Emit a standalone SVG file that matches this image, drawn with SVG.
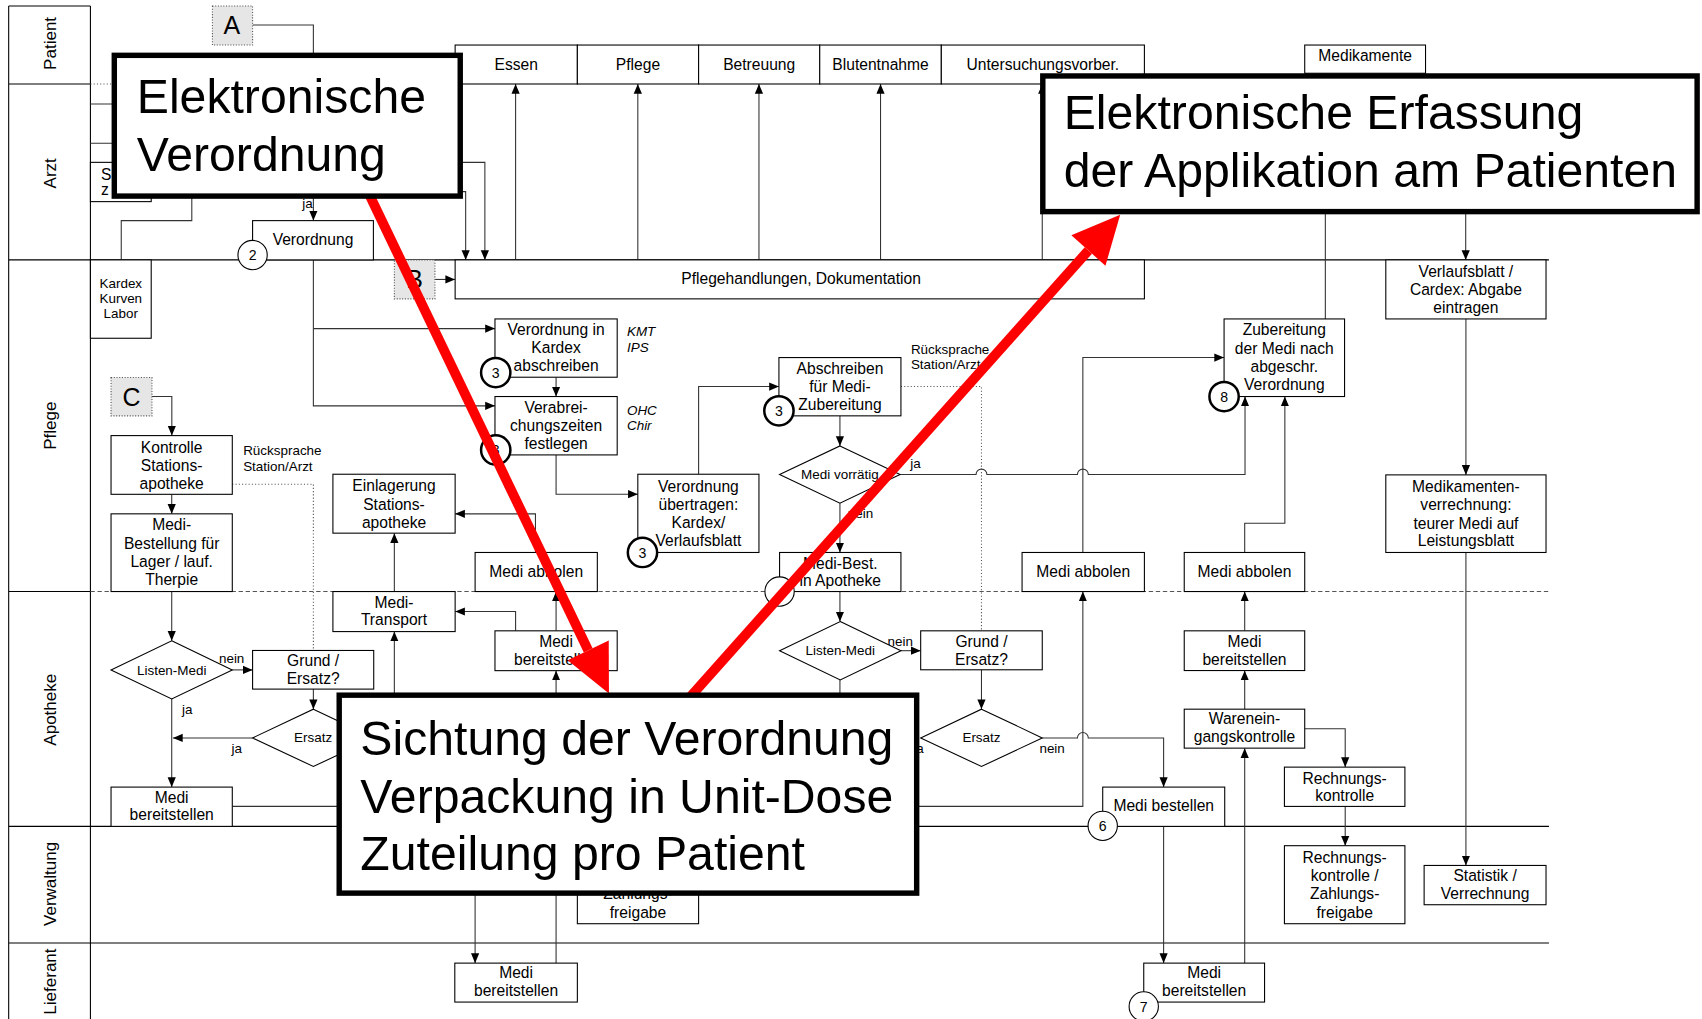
<svg xmlns="http://www.w3.org/2000/svg" width="1702" height="1019" viewBox="0 0 1702 1019">
<defs>
<style>
text{font-family:"Liberation Sans",Arial,sans-serif;fill:#000}
.t{font-size:14.4px;text-anchor:middle}
.s{font-size:12.4px}
.sm{font-size:12.4px;text-anchor:middle}
.i{font-size:12.4px;font-style:italic}
.lane{font-size:15.7px;text-anchor:middle}
.big{font-size:23px;text-anchor:middle}
.ct{font-size:44.4px}
.n{font-size:13px;text-anchor:middle}
.box{fill:#fff;stroke:#000;stroke-width:1}
.tag{fill:#e6e6e6;stroke:#555;stroke-width:1;stroke-dasharray:1 1.5}
.ln{fill:none;stroke:#333;stroke-width:1}
.ar{marker-end:url(#ah)}
.dot{fill:none;stroke:#555;stroke-width:1;stroke-dasharray:1 2}
.ll{stroke:#000;stroke-width:1;fill:none}
.dash{stroke:#555;stroke-width:1;stroke-dasharray:4 2.5;fill:none}
.c{fill:#fff;stroke:#000;stroke-width:1}
.ck{fill:#fff;stroke:#000;stroke-width:2.3}
.callout{fill:#fff;stroke:#000;stroke-width:5}
.red{stroke:#f00;stroke-width:9;fill:none}
</style>
<marker id="ah" viewBox="0 0 10 10" refX="10" refY="5" markerWidth="9" markerHeight="9" markerUnits="userSpaceOnUse" orient="auto"><path d="M0,0.8 L10,5 L0,9.2 z" fill="#000"/></marker>
</defs>
<rect width="1702" height="1019" fill="#fff"/>
<g transform="scale(1.08546,1.0852)">

<!-- swimlanes -->
<g id="lanes">
<path class="ll" d="M8,5.5 H83.3 M8,5.5 V940 M83.3,5.5 V940 M8,77.4 H83.3 M8,239.5 H1427 M8,545.1 H83.3 M8,761.5 H1427 M8,869 H1427"/>
<path class="dot" d="M83.3,77.4 H419"/>
<path class="dash" d="M83.3,545.1 H1427"/>
<text class="lane" transform="translate(51.5,40) rotate(-90)">Patient</text>
<text class="lane" transform="translate(51.5,159.7) rotate(-90)">Arzt</text>
<text class="lane" transform="translate(51.5,392.3) rotate(-90)">Pflege</text>
<text class="lane" transform="translate(51.5,654) rotate(-90)">Apotheke</text>
<text class="lane" transform="translate(51.5,814.5) rotate(-90)">Verwaltung</text>
<text class="lane" transform="translate(51.5,904.5) rotate(-90)">Lieferant</text>
</g>

<!-- connectors -->
<g id="connectors">
<path class="ln ar" d="M232.7,23 H288.7 V203.3"/>
<path class="ln" d="M176.7,170 V203.3 H111.7 V239.5"/>
<path class="ln" d="M83.3,95.8 H110 M83.3,132 H110"/>
<path class="ln ar" d="M410,149.6 H446.7 V239.5"/>
<path class="ln ar" d="M410,176.6 H429 V239.5"/>
<path class="ln ar" d="M475,239.5 V77.4"/>
<path class="ln ar" d="M587.6,239.5 V77.4"/>
<path class="ln ar" d="M699.2,239.5 V77.4"/>
<path class="ln ar" d="M811.2,239.5 V77.4"/>
<path class="ln ar" d="M960.2,239.5 V77.4"/>
<path class="ln ar" d="M400.7,257.5 H419.3"/>
<path class="ln ar" d="M1350.3,100 V239.5"/>
<path class="ln" d="M1221,66 V293.9"/>
<path class="ln ar" d="M288.7,239.5 V374 H456"/>
<path class="ln ar" d="M288.7,302.8 H456"/>
<path class="ln ar" d="M512.3,347.6 V365.4"/>
<path class="ln ar" d="M512.3,419.2 V455.4 H587.6"/>
<path class="ln ar" d="M643.6,437 V356.2 H717.6"/>
<path class="ln ar" d="M773.8,383.2 V410.9"/>
<path class="ln ar" d="M829.2,437.3 H899.2 a5,5 0 0 1 10,0 H992.6 a5,5 0 0 1 10,0 H1147 V365.4"/>
<path class="ln ar" d="M773.8,463.7 V509.1"/>
<path class="ln ar" d="M773.8,545.1 V572.7"/>
<path class="ln ar" d="M830,599.6 H848.2"/>
<path class="ln" d="M773.8,626.5 V660"/>
<path class="ln ar" d="M904.2,617.2 V653.5"/>
<path class="ln ar" d="M960.2,680 H992.6 a5,5 0 0 1 10,0 H1072 V725.3"/>
<path class="ln ar" d="M1072,761.5 V887.5"/>
<path class="ln ar" d="M1146.7,887.5 V689.4"/>
<path class="ln ar" d="M1146.7,653.5 V617.9"/>
<path class="ln ar" d="M1146.7,581.3 V545.1"/>
<path class="ln ar" d="M1146.7,509.1 V482.1 H1183.7 V365.4"/>
<path class="ln ar" d="M997.6,509.1 V329.5 H1127.7"/>
<path class="ln ar" d="M214,743.1 H997.6 V545.1"/>
<path class="ln ar" d="M1202,671.6 H1239.3 V706.9"/>
<path class="ln ar" d="M1239.3,743.1 V779.3"/>
<path class="ln ar" d="M1350.5,293.9 V437.6"/>
<path class="ln ar" d="M1350.5,509.1 V797.5"/>
<path class="ln ar" d="M140,365.4 H158.3 V401.4"/>
<path class="ln ar" d="M158.2,455.5 V473.5"/>
<path class="ln ar" d="M158.2,545.1 V590.5"/>
<path class="ln ar" d="M214,617.3 H232.7"/>
<path class="ln ar" d="M288.7,635 V653.5"/>
<path class="ln ar" d="M232.7,680 H159.3"/>
<path class="ln ar" d="M158.2,644 V725.3"/>
<path class="ln ar" d="M493.3,509.1 V473.5 H419.3"/>
<path class="ln ar" d="M363.3,545.1 V491.3"/>
<path class="ln ar" d="M475,581.3 V563.5 H419.3"/>
<path class="ln ar" d="M512.3,581.3 V545.1"/>
<path class="ln ar" d="M512.3,887.5 V618"/>
<path class="ln ar" d="M437.7,790 V887.5"/>
<path class="ln ar" d="M363.3,700 V582"/>
<path class="dot" d="M214,446.2 H288.7 V599.4"/>
<path class="dot" d="M830,356.2 H904.2 V581.3"/>
<text class="s" x="278.5" y="191.5">ja</text>
<text class="s" x="838.5" y="431">ja</text>
<text class="s" x="781" y="477">nein</text>
<text class="s" x="817.6" y="595.5">nein</text>
<text class="s" x="957.6" y="693.6">nein</text>
<text class="s" x="201.7" y="611">nein</text>
<text class="s" x="167.7" y="657.7">ja</text>
<text class="s" x="213.3" y="693.6">ja</text>
<text class="s" x="851" y="693.6" text-anchor="end">ja</text>
<text class="s" x="224"><tspan x="224" y="419.7">Rücksprache</tspan><tspan x="224" y="434.3">Station/Arzt</tspan></text>
<text class="s" x="839.2"><tspan x="839.2" y="325.8">Rücksprache</tspan><tspan x="839.2" y="340">Station/Arzt</tspan></text>
<text class="i" x="577.6"><tspan x="577.6" y="309.2">KMT</tspan><tspan x="577.6" y="324.6">IPS</tspan></text>
<text class="i" x="577.6"><tspan x="577.6" y="382.6">OHC</tspan><tspan x="577.6" y="396.3">Chir</tspan></text>
</g>

<!-- patient lane -->
<g id="tag-a"><rect class="tag" x="195.7" y="5.5" width="37" height="36"/><text class="big" x="213.5" y="31.3">A</text></g>
<g id="essen"><rect class="box" x="419.3" y="41.5" width="112.6" height="35.9"/><text class="t" x="475.6" y="64.4">Essen</text></g>
<g id="pflege"><rect class="box" x="531.9" y="41.5" width="111.7" height="35.9"/><text class="t" x="587.75" y="64.4">Pflege</text></g>
<g id="betreuung"><rect class="box" x="643.6" y="41.5" width="111.6" height="35.9"/><text class="t" x="699.4" y="64.4">Betreuung</text></g>
<g id="blutentnahme"><rect class="box" x="755.2" y="41.5" width="112" height="35.9"/><text class="t" x="811.2" y="64.4">Blutentnahme</text></g>
<g id="untersuchung"><rect class="box" x="867.2" y="41.5" width="187.1" height="35.9"/><text class="t" x="960.75" y="64.4">Untersuchungsvorber.</text></g>
<g id="medikamente"><rect class="box" x="1202" y="41.5" width="111.3" height="26"/><text class="t" x="1257.65" y="55.8">Medikamente</text></g>

<!-- arzt lane -->
<g id="arzt-box"><rect class="box" x="83.3" y="149.6" width="56" height="36.2"/><text class="t" x="97.8" y="166.3" text-anchor="start">S</text><text class="t" x="96.7" y="179.9" text-anchor="start">z</text></g>
<g id="verordnung"><rect class="box" x="232.7" y="203.3" width="111.3" height="36.2"/><text class="t" x="288.35" y="226">Verordnung</text></g>

<!-- pflege lane -->
<g id="kardex"><rect class="box" x="83.3" y="239.5" width="56" height="72.2"/><text class="sm" x="111.3"><tspan x="111.3" y="265.4">Kardex</tspan><tspan x="111.3" y="279.4">Kurven</tspan><tspan x="111.3" y="293.4">Labor</tspan></text></g>
<g id="pflegehandlungen"><rect class="box" x="419.3" y="239.5" width="635" height="35.9"/><text class="t" x="738" y="262.1">Pflegehandlungen, Dokumentation</text></g>
<g id="tag-b"><rect class="tag" x="363.3" y="239.5" width="37.4" height="35.9"/><text class="big" x="382" y="265.5">B</text></g>
<g id="tag-c"><rect class="tag" x="102.3" y="347.9" width="37.7" height="35.3"/><text class="big" x="121.2" y="373.7">C</text></g>
<g id="kardex-abschreiben"><rect class="box" x="456" y="293.9" width="112.6" height="53.7"/><text class="t" x="512.3"><tspan x="512.3" y="308.5">Verordnung in</tspan><tspan x="512.3" y="325.4">Kardex</tspan><tspan x="512.3" y="342.3">abschreiben</tspan></text></g>
<g id="verabreichungszeiten"><rect class="box" x="456" y="365.4" width="112.6" height="53.8"/><text class="t" x="512.3"><tspan x="512.3" y="380.7">Verabrei-</tspan><tspan x="512.3" y="397.6">chungszeiten</tspan><tspan x="512.3" y="413.5">festlegen</tspan></text></g>
<g id="uebertragen"><rect class="box" x="587.6" y="437" width="111.6" height="72.1"/><text class="t" x="643.4"><tspan x="643.4" y="453">Verordnung</tspan><tspan x="643.4" y="469.7">übertragen:</tspan><tspan x="643.4" y="486.4">Kardex/</tspan><tspan x="643.4" y="503.1">Verlaufsblatt</tspan></text></g>
<g id="abschreiben"><rect class="box" x="717.6" y="329.5" width="112.4" height="53.7"/><text class="t" x="773.8"><tspan x="773.8" y="344.4">Abschreiben</tspan><tspan x="773.8" y="361.3">für Medi-</tspan><tspan x="773.8" y="378.2">Zubereitung</tspan></text></g>
<g id="vorraetig"><polygon class="box" points="773.8,410.9 829.2,437.3 773.8,463.7 718.2,437.3"/><text class="sm" x="773.8" y="441.6">Medi vorrätig</text></g>
<g id="zubereitung"><rect class="box" x="1127.7" y="293.9" width="111" height="71.5"/><text class="t" x="1183.2"><tspan x="1183.2" y="309.1">Zubereitung</tspan><tspan x="1183.2" y="326">der Medi nach</tspan><tspan x="1183.2" y="342.9">abgeschr.</tspan><tspan x="1183.2" y="359.8">Verordnung</tspan></text></g>
<g id="verlaufsblatt"><rect class="box" x="1276.7" y="239.5" width="147.6" height="54.4"/><text class="t" x="1350.5"><tspan x="1350.5" y="255.4">Verlaufsblatt /</tspan><tspan x="1350.5" y="271.6">Cardex: Abgabe</tspan><tspan x="1350.5" y="288.2">eintragen</tspan></text></g>
<g id="verrechnung"><rect class="box" x="1276.7" y="437.6" width="147.6" height="71.5"/><text class="t" x="1350.5"><tspan x="1350.5" y="453.5">Medikamenten-</tspan><tspan x="1350.5" y="470.3">verrechnung:</tspan><tspan x="1350.5" y="487.2">teurer Medi auf</tspan><tspan x="1350.5" y="503.5">Leistungsblatt</tspan></text></g>
<g id="kontrolle"><rect class="box" x="102.3" y="401.4" width="111.7" height="54.1"/><text class="t" x="158.15"><tspan x="158.15" y="417.2">Kontrolle</tspan><tspan x="158.15" y="434.1">Stations-</tspan><tspan x="158.15" y="450.4">apotheke</tspan></text></g>
<g id="bestellung"><rect class="box" x="102.3" y="473.5" width="111.7" height="71.6"/><text class="t" x="158.15"><tspan x="158.15" y="488.7">Medi-</tspan><tspan x="158.15" y="505.6">Bestellung für</tspan><tspan x="158.15" y="522.5">Lager / lauf.</tspan><tspan x="158.15" y="539.4">Therpie</tspan></text></g>
<g id="einlagerung"><rect class="box" x="306.7" y="437" width="112.6" height="54.3"/><text class="t" x="363"><tspan x="363" y="452.8">Einlagerung</tspan><tspan x="363" y="469.7">Stations-</tspan><tspan x="363" y="486.1">apotheke</tspan></text></g>
<g id="abholen-1"><rect class="box" x="437.7" y="509.1" width="112.6" height="36"/><text class="t" x="494" y="532.1">Medi abbolen</text></g>
<g id="best-apotheke"><rect class="box" x="718.2" y="509.1" width="111.8" height="36"/><text class="t" x="774.1"><tspan x="774.1" y="524.1">Medi-Best.</tspan><tspan x="774.1" y="540.4">in Apotheke</tspan></text></g>
<g id="abholen-2"><rect class="box" x="941.6" y="509.1" width="112.7" height="36"/><text class="t" x="997.95" y="532.1">Medi abbolen</text></g>
<g id="abholen-3"><rect class="box" x="1091" y="509.1" width="111" height="36"/><text class="t" x="1146.5" y="532.1">Medi abbolen</text></g>

<!-- apotheke lane -->
<g id="transport"><rect class="box" x="306.7" y="545.1" width="112.6" height="36.9"/><text class="t" x="363"><tspan x="363" y="560.1">Medi-</tspan><tspan x="363" y="576.3">Transport</tspan></text></g>
<g id="listen-1"><polygon class="box" points="158.2,590.5 214,617.3 158.2,644 102.3,617.3"/><text class="sm" x="158.2" y="621.6">Listen-Medi</text></g>
<g id="grund-1"><rect class="box" x="232.7" y="599.4" width="111.6" height="35.6"/><text class="t" x="288.5"><tspan x="288.5" y="614.1">Grund /</tspan><tspan x="288.5" y="630.6">Ersatz?</tspan></text></g>
<g id="ersatz-1"><polygon class="box" points="288.7,653.5 344.7,680 288.7,706.3 232.7,680"/><text class="sm" x="288.5" y="684">Ersatz</text></g>
<g id="bereit-1"><rect class="box" x="102.3" y="725.3" width="111.7" height="36.2"/><text class="t" x="158.15"><tspan x="158.15" y="739.9">Medi</tspan><tspan x="158.15" y="755.9">bereitstellen</tspan></text></g>
<g id="bereit-2"><rect class="box" x="456" y="581.3" width="112.6" height="36.7"/><text class="t" x="512.3"><tspan x="512.3" y="596.2">Medi</tspan><tspan x="512.3" y="612.5">bereitstellen</tspan></text></g>
<g id="listen-2"><polygon class="box" points="774.1,572.7 830,599.6 774.1,626.5 718.2,599.6"/><text class="sm" x="774.1" y="604">Listen-Medi</text></g>
<g id="grund-2"><rect class="box" x="848.2" y="581.3" width="112" height="35.9"/><text class="t" x="904.2"><tspan x="904.2" y="596.2">Grund /</tspan><tspan x="904.2" y="612.5">Ersatz?</tspan></text></g>
<g id="ersatz-2"><polygon class="box" points="904.2,653.5 960.2,680 904.2,706.3 848.2,680"/><text class="sm" x="904.2" y="684">Ersatz</text></g>
<g id="bereit-3"><rect class="box" x="1091" y="581.3" width="111" height="36.6"/><text class="t" x="1146.5"><tspan x="1146.5" y="596.2">Medi</tspan><tspan x="1146.5" y="612.5">bereitstellen</tspan></text></g>
<g id="wareneingang"><rect class="box" x="1091" y="653.5" width="111" height="35.9"/><text class="t" x="1146.5"><tspan x="1146.5" y="667.5">Warenein-</tspan><tspan x="1146.5" y="683.8">gangskontrolle</tspan></text></g>
<g id="rechnungskontrolle"><rect class="box" x="1183.3" y="706.9" width="111" height="36.2"/><text class="t" x="1238.8"><tspan x="1238.8" y="722.1">Rechnungs-</tspan><tspan x="1238.8" y="738.1">kontrolle</tspan></text></g>
<g id="bestellen"><rect class="box" x="1015.9" y="725.3" width="112.4" height="36.2"/><text class="t" x="1072.1" y="747.1">Medi bestellen</text></g>

<!-- verwaltung lane -->
<g id="freigabe-1"><rect class="box" x="531.9" y="779.3" width="111.7" height="71.9"/><text class="t" x="587.75"><tspan x="587.75" y="828.7">Zahlungs-</tspan><tspan x="587.75" y="845.6">freigabe</tspan></text></g>
<g id="freigabe-2"><rect class="box" x="1183.3" y="779.3" width="111" height="71.9"/><text class="t" x="1238.8"><tspan x="1238.8" y="794.9">Rechnungs-</tspan><tspan x="1238.8" y="811.5">kontrolle /</tspan><tspan x="1238.8" y="828.7">Zahlungs-</tspan><tspan x="1238.8" y="845.6">freigabe</tspan></text></g>
<g id="statistik"><rect class="box" x="1312" y="797.5" width="112.3" height="36.2"/><text class="t" x="1368.15"><tspan x="1368.15" y="812.1">Statistik /</tspan><tspan x="1368.15" y="828.7">Verrechnung</tspan></text></g>

<!-- lieferant lane -->
<g id="liefer-1"><rect class="box" x="419" y="887.5" width="112.9" height="35.9"/><text class="t" x="475.45"><tspan x="475.45" y="901.2">Medi</tspan><tspan x="475.45" y="917.7">bereitstellen</tspan></text></g>
<g id="liefer-2"><rect class="box" x="1053.7" y="887.5" width="111.3" height="35.9"/><text class="t" x="1109.35"><tspan x="1109.35" y="901.2">Medi</tspan><tspan x="1109.35" y="917.7">bereitstellen</tspan></text></g>

<!-- step markers -->
<g id="markers">
<circle class="c" cx="232.7" cy="235" r="13.5"/><text class="n" x="232.7" y="239.7">2</text>
<circle class="ck" cx="456.7" cy="343.3" r="13.5"/><text class="n" x="456.7" y="348">3</text>
<circle class="ck" cx="456.7" cy="414.6" r="13.5"/><text class="n" x="456.7" y="419.3">3</text>
<circle class="ck" cx="591.9" cy="509.1" r="13.5"/><text class="n" x="591.9" y="513.8">3</text>
<circle class="ck" cx="717.6" cy="378.6" r="13.5"/><text class="n" x="717.6" y="383.3">3</text>
<circle class="ck" cx="1127.7" cy="365.4" r="13.5"/><text class="n" x="1127.7" y="370.1">8</text>
<circle class="c" cx="718.2" cy="545.1" r="13.5"/>
<circle class="c" cx="1015.9" cy="761" r="13.5"/><text class="n" x="1015.9" y="765.7">6</text>
<circle class="c" cx="1053.7" cy="927.4" r="13.5"/><text class="n" x="1053.7" y="932.1">7</text>
</g>

<!-- highlight arrows -->
<g id="highlights">
<path class="red" d="M339.8,178.5 L541.9,599.4"/>
<polygon fill="#f00" points="561,639 560.8,590.3 523,608.5"/>
<path class="red" d="M636,642 L1002.7,230.8"/>
<polygon fill="#f00" points="1032,198 1018.4,244.8 987,216.8"/>
</g>

<!-- callouts -->
<g id="callout-verordnung"><rect class="callout" x="105.3" y="51" width="318.7" height="129.7"/><text class="ct"><tspan x="126" y="104">Elektronische</tspan><tspan x="126" y="158">Verordnung</tspan></text></g>
<g id="callout-erfassung"><rect class="callout" x="960.7" y="70" width="602.8" height="125"/><text class="ct"><tspan x="980" y="118.5">Elektronische Erfassung</tspan><tspan x="980" y="172">der Applikation am Patienten</tspan></text></g>
<g id="callout-apotheke"><rect class="callout" x="312.5" y="640.6" width="532" height="182.4"/><text class="ct"><tspan x="332" y="695.5">Sichtung der Verordnung</tspan><tspan x="332" y="749">Verpackung in Unit-Dose</tspan><tspan x="332" y="801.5">Zuteilung pro Patient</tspan></text></g>
</g>
</svg>
